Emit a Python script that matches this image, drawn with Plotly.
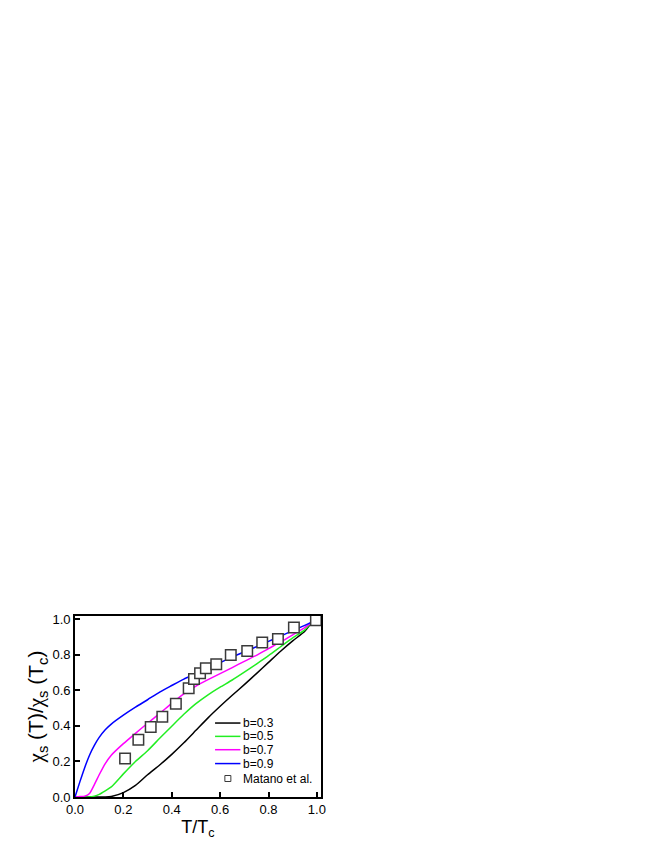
import plotly.graph_objects as go

# reduced temperature grid shared by the model curves
t_grid = [0.0, 0.02, 0.04, 0.06, 0.08, 0.1, 0.125, 0.15, 0.2, 0.25, 0.3, 0.35, 0.4,
          0.45, 0.5, 0.55, 0.6, 0.65, 0.7, 0.75, 0.8, 0.85, 0.9, 0.95, 0.98]

# chi_s(T)/chi_s(Tc) for each b
chi_b03 = [0.0, 0.0, 0.0, 0.0, 0.0, 0.0, 0.0, 0.003, 0.025, 0.065, 0.125, 0.18, 0.24,
           0.305, 0.375, 0.445, 0.51, 0.572, 0.632, 0.694, 0.757, 0.82, 0.878, 0.932, 0.985]
chi_b05 = [0.0, 0.0, 0.0, 0.0, 0.005, 0.015, 0.035, 0.057, 0.13, 0.2, 0.26, 0.33, 0.398,
           0.465, 0.525, 0.575, 0.618, 0.658, 0.702, 0.748, 0.795, 0.845, 0.895, 0.94, 0.985]
chi_b07 = [0.0, 0.003, 0.005, 0.02, 0.07, 0.125, 0.188, 0.235, 0.3, 0.358, 0.415, 0.47, 0.527,
           0.58, 0.624, 0.66, 0.694, 0.728, 0.763, 0.797, 0.835, 0.872, 0.912, 0.953, 0.985]
chi_b09 = [0.0, 0.085, 0.165, 0.235, 0.29, 0.335, 0.378, 0.41, 0.46, 0.505, 0.547, 0.59, 0.627,
           0.663, 0.692, 0.722, 0.755, 0.788, 0.816, 0.845, 0.875, 0.905, 0.935, 0.965, 0.985]

# experimental points (Matano et al.)
t_exp = [0.207, 0.262, 0.313, 0.361, 0.417, 0.470, 0.492, 0.517, 0.541, 0.584,
         0.644, 0.712, 0.774, 0.839, 0.905, 0.996]
chi_exp = [0.216, 0.322, 0.393, 0.451, 0.524, 0.612, 0.664, 0.696, 0.724, 0.746,
           0.798, 0.821, 0.869, 0.888, 0.953, 0.994]

series_names = ["b=0.3", "b=0.5", "b=0.7", "b=0.9"]
series_colors = ["#000000", "#22ee22", "#ff00ff", "#0000ff"]
series_values = [chi_b03, chi_b05, chi_b07, chi_b09]
exp_name = "Matano et al."

FONT = "Liberation Sans, Arial, sans-serif"
CHI = "<span style=\"font-family:'Liberation Serif', serif\">χ</span>"

fig = go.Figure()

for name, color, vals in zip(series_names, series_colors, series_values):
    fig.add_trace(go.Scatter(x=t_grid, y=vals, mode="lines", name=name,
                             line=dict(color=color, width=1.5, shape="spline", smoothing=0.6),
                             showlegend=False))

fig.add_trace(go.Scatter(x=t_exp, y=chi_exp, mode="markers", name=exp_name,
                         marker=dict(symbol="square", size=10.5, color="white",
                                     line=dict(color="#3a3a3a", width=1.5)),
                         showlegend=False))

# hand-built legend, tighter than plotly's own
leg_y = [0.416, 0.341, 0.266, 0.188, 0.104]
for name, color, yy in zip(series_names, series_colors, leg_y):
    fig.add_shape(type="line", xref="x", yref="y", x0=0.579, x1=0.684, y0=yy, y1=yy,
                  line=dict(color=color, width=1.5))
    fig.add_annotation(x=0.685, y=yy, xref="x", yref="y", text=name, showarrow=False,
                       xanchor="left", yanchor="middle", font=dict(size=12, color="black"))
fig.add_shape(type="rect", xref="x", yref="y", xsizemode="pixel", ysizemode="pixel",
              xanchor=0.632, yanchor=leg_y[4], x0=-3, x1=3, y0=-3, y1=3,
              line=dict(color="#3a3a3a", width=1), fillcolor="white")
fig.add_annotation(x=0.685, y=leg_y[4], xref="x", yref="y", text=exp_name, showarrow=False,
                   xanchor="left", yanchor="middle", font=dict(size=12, color="black"))

axis_style = dict(showline=True, linecolor="black", linewidth=1.6, mirror=True,
                  ticks="inside", ticklen=5, tickwidth=1.5, tickcolor="black",
                  dtick=0.2, tickformat=".1f", showgrid=False, zeroline=False,
                  automargin=False, tickfont=dict(size=13, color="black"))

# page body adds ~8px, margins are pulled in to compensate
fig.update_layout(
    width=664, height=860,
    margin=dict(l=67, r=351, t=608, b=71),
    paper_bgcolor="white", plot_bgcolor="white",
    font=dict(family=FONT, color="black"),
    xaxis=dict(range=[0, 1.017], tick0=0,
               title=dict(text="T/T<sub>c</sub>", font=dict(size=18), standoff=4),
               **axis_style),
    yaxis=dict(range=[0, 1.018], tick0=0,
               title=dict(text=CHI + "<sub>s</sub> (T)/" + CHI + "<sub>s</sub> (T<sub>c</sub>)",
                          font=dict(size=21), standoff=3),
               **axis_style),
)

fig.write_html("out.html")
